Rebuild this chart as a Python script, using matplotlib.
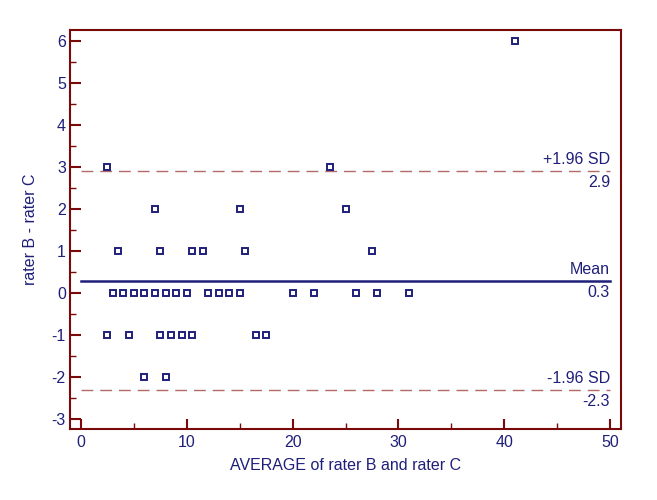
import matplotlib.pyplot as plt
from matplotlib.ticker import MultipleLocator

plt.rcParams['font.family'] = ['Liberation Sans', 'DejaVu Sans']
plt.rcParams['axes.unicode_minus'] = False

# Bland-Altman data: average of raters (x) and difference B - C (y)
avg_vals = [41,
            2.5, 23.5,
            7, 15, 25,
            3.5, 7.5, 10.5, 11.5, 15.5, 27.5,
            3, 4, 5, 6, 7, 8, 9, 10, 12, 13, 14, 15, 20, 22, 26, 28, 31,
            2.5, 4.5, 7.5, 8.5, 9.5, 10.5, 16.5, 17.5,
            6, 8]
diff_vals = [6,
             3, 3,
             2, 2, 2,
             1, 1, 1, 1, 1, 1,
             0, 0, 0, 0, 0, 0, 0, 0, 0, 0, 0, 0, 0, 0, 0, 0, 0,
             -1, -1, -1, -1, -1, -1, -1, -1,
             -2, -2]

mean_diff = 0.29
upper_loa = 2.91
lower_loa = -2.31
line_labels = ["+1.96 SD", "Mean", "-1.96 SD"]
value_labels = ["2.9", "0.3", "-2.3"]

NAVY = "#1f1f7a"
FRAME = "#7a0a0a"
LOA = "#b46a6a"
FS = 11.5

fig = plt.figure(figsize=(6.57, 5), dpi=100)
ax = fig.add_axes([70 / 657, 71 / 500, 551 / 657, 399 / 500])

ax.plot(avg_vals, diff_vals, linestyle='none', marker='s', markersize=5,
        markerfacecolor='white', markeredgecolor=NAVY, markeredgewidth=1.4, zorder=3)

x_end = 50
ax.plot([0, x_end], [mean_diff, mean_diff], color=NAVY, lw=1.8)
ax.plot([0, x_end], [upper_loa, upper_loa], color=LOA, lw=1.0, dashes=(8.5, 5))
ax.plot([0, x_end], [lower_loa, lower_loa], color=LOA, lw=1.0, dashes=(8.5, 5))

for yv, top, bottom in zip([upper_loa, mean_diff, lower_loa], line_labels, value_labels):
    ax.annotate(top, (x_end, yv), xytext=(0, 3), textcoords='offset points',
                ha='right', va='bottom', color=NAVY, fontsize=FS)
    ax.annotate(bottom, (x_end, yv), xytext=(0, -3), textcoords='offset points',
                ha='right', va='top', color=NAVY, fontsize=FS)

ax.set_xlim(-1.04, 51.04)
ax.set_ylim(-3.24, 6.26)
ax.xaxis.set_major_locator(MultipleLocator(10))
ax.xaxis.set_minor_locator(MultipleLocator(5))
ax.yaxis.set_major_locator(MultipleLocator(1))
ax.yaxis.set_minor_locator(MultipleLocator(0.5))

ax.tick_params(which='both', direction='in', colors=FRAME, labelcolor=NAVY,
               top=False, right=False, labelsize=FS)
ax.tick_params(axis='y', which='major', length=8, width=1.5, pad=3)
ax.tick_params(axis='y', which='minor', length=4, width=1.0)
ax.tick_params(axis='x', which='major', length=7.5, width=1.5, pad=4)
ax.tick_params(axis='x', which='minor', length=4, width=1.0)

for s in ax.spines.values():
    s.set_color(FRAME)
    s.set_linewidth(1.5)

ax.set_xlabel("AVERAGE of rater B and rater C", color=NAVY, fontsize=FS, labelpad=6)
ax.set_ylabel("rater B - rater C", color=NAVY, fontsize=FS, labelpad=10)

fig.savefig("out.png", dpi=100)
